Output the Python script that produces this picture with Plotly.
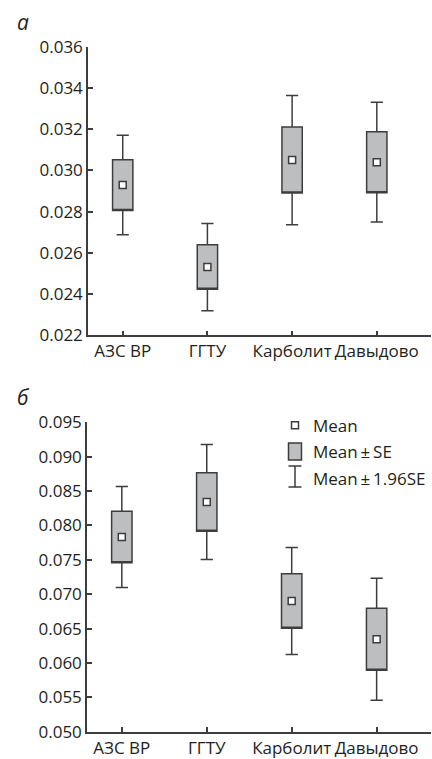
import numpy as np
import plotly.graph_objects as go

# ---- data ----
categories = ["АЗС ВР", "ГГТУ", "Карболит", "Давыдово"]
mean_a = [0.02929, 0.02531, 0.03050, 0.03040]
se_a = [0.00123, 0.00108, 0.00160, 0.00148]
mean_b = [0.07832, 0.08341, 0.06902, 0.06345]
se_b = [0.00375, 0.00427, 0.00397, 0.00452]
yticks_a = [0.022, 0.024, 0.026, 0.028, 0.030, 0.032, 0.034, 0.036]
yticks_b = [0.050, 0.055, 0.060, 0.065, 0.070, 0.075, 0.080, 0.085, 0.090, 0.095]
legend_labels = ["Mean", "Mean\u2009±\u2009SE", "Mean\u2009±\u20091.96SE"]

W, H = 432, 759
FONT = "Open Sans"
TXT = "#231f20"
LINE = "#3d3d3d"
FILL = "#bcbec0"
FS = 17


def py(p):
    return 1 - p / H


def px(p):
    return p / W


fig = go.Figure()


def add_panel(means, ses, xa, ya):
    m = np.array(means)
    s = np.array(ses)
    fig.add_trace(go.Box(
        x=categories, q1=m - s, median=m - s, q3=m + s,
        lowerfence=m - 1.96 * s, upperfence=m + 1.96 * s,
        width=0.24, whiskerwidth=0.6, fillcolor=FILL,
        line=dict(color=LINE, width=1.5), boxpoints=False,
        xaxis=xa, yaxis=ya, showlegend=False, hoverinfo="skip"))
    fig.add_trace(go.Scatter(
        x=categories, y=m, mode="markers",
        marker=dict(symbol="square", size=7, color="white",
                    line=dict(color=LINE, width=1.5)),
        xaxis=xa, yaxis=ya, showlegend=False, hoverinfo="skip"))


add_panel(mean_a, se_a, "x", "y")
add_panel(mean_b, se_b, "x2", "y2")

xcommon = dict(type="category", range=[-0.41, 3.64], showline=True,
               linecolor=LINE, linewidth=1.5, ticks="inside", ticklen=5,
               tickwidth=1.5, tickcolor=LINE, showgrid=False, zeroline=False,
               tickfont=dict(family=FONT, size=FS, color=TXT),
               fixedrange=True, automargin=False)
ycommon = dict(showline=True, linecolor=LINE, linewidth=1.5, ticks="inside",
               ticklen=5, tickwidth=1.5, tickcolor=LINE, showgrid=False,
               zeroline=False, tickformat=".3f",
               tickfont=dict(family=FONT, size=FS, color=TXT),
               fixedrange=True, automargin=False)

fig.update_layout(
    width=W, height=H,
    margin=dict(l=0, r=0, t=0, b=0),
    paper_bgcolor="white", plot_bgcolor="white",
    showlegend=False,
    xaxis=dict(xcommon, domain=[px(88), px(431)], anchor="y"),
    yaxis=dict(ycommon, domain=[py(335.3), py(46.7)], anchor="x",
               range=[0.022, 0.036], tickvals=yticks_a),
    xaxis2=dict(xcommon, domain=[px(87), px(431)], anchor="y2"),
    yaxis2=dict(ycommon, domain=[py(731.7), py(422.3)], anchor="x2",
                range=[0.050, 0.095], tickvals=yticks_b),
)

# panel labels
for lab, yc in [("а", 22), ("б", 397)]:
    fig.add_annotation(text="<i>" + lab + "</i>", x=px(15), y=py(yc),
                       xref="paper", yref="paper", xanchor="left",
                       yanchor="middle", showarrow=False,
                       font=dict(family=FONT, size=21, color=TXT))

# legend (manual)
cx = 295
fig.add_shape(type="rect", xref="paper", yref="paper",
              x0=px(cx - 3.5), x1=px(cx + 3.5), y0=py(428.8), y1=py(421.8),
              fillcolor="white", line=dict(color=LINE, width=1.5))
fig.add_shape(type="rect", xref="paper", yref="paper",
              x0=px(288.5), x1=px(301.5), y0=py(460), y1=py(443),
              fillcolor=FILL, line=dict(color=LINE, width=1.5))
fig.add_shape(type="line", xref="paper", yref="paper",
              x0=px(cx), x1=px(cx), y0=py(487), y1=py(466),
              line=dict(color=LINE, width=1.5))
for yy in (466, 487):
    fig.add_shape(type="line", xref="paper", yref="paper",
                  x0=px(cx - 6.5), x1=px(cx + 6.5), y0=py(yy), y1=py(yy),
                  line=dict(color=LINE, width=1.5))
for lab, yc in zip(legend_labels, [425, 451, 478]):
    fig.add_annotation(text=lab, x=px(311), y=py(yc), xref="paper",
                       yref="paper", xanchor="left", yanchor="middle",
                       showarrow=False,
                       font=dict(family=FONT, size=FS, color=TXT))

fig.write_html("out.html")
